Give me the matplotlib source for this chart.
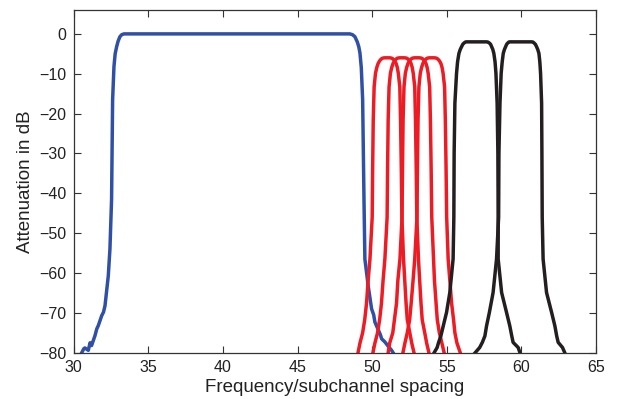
import numpy as np
import matplotlib
matplotlib.use('Agg')
import matplotlib.pyplot as plt

plt.rcParams['font.family'] = ['Liberation Sans', 'DejaVu Sans']

# wide prototype filter (blue)
blue_x = [30.54, 30.68, 30.75, 30.98, 31.10, 31.20, 31.43, 31.55, 31.65, 31.88, 32.00, 32.10,
          32.32, 32.43, 32.54, 32.61, 32.70, 32.78, 32.88, 32.98, 33.10, 33.22, 33.37,
          48.50, 48.68, 48.84, 49.00, 49.10, 49.18, 49.27, 49.36, 49.45, 49.51, 49.62, 49.73,
          49.96, 50.10, 50.18, 50.55, 50.63, 50.85, 51.10, 51.30, 51.40]
blue_y = [-80.0, -79.0, -78.8, -79.4, -77.5, -78.2, -75.7, -74.0, -73.2, -70.7, -69.8, -68.2,
          -60.7, -54.0, -41.5, -16.5, -8.2, -5.0, -3.2, -1.8, -0.7, -0.2, 0.0,
          0.0, -0.2, -0.7, -2.0, -3.2, -4.8, -8.5, -16.5, -41.5, -56.5, -59.8, -63.2,
          -69.0, -70.5, -72.3, -75.5, -76.5, -77.3, -78.5, -79.4, -80.0]

# four narrow subchannel filters (red), same level grid for all
red_y = [-80.0, -77.6, -75.0, -71.7, -67.6, -61.8, -56.5, -46.0, -34.0, -21.6, -13.3, -9.9,
         -8.4, -7.4, -6.8, -6.4, -6.15, -6.05, -6.0,
         -6.0, -6.05, -6.15, -6.4, -6.8, -7.4, -8.4, -9.9, -13.3, -21.6, -34.0, -46.0,
         -56.5, -61.8, -67.6, -71.7, -75.0, -77.6, -80.0]
red_x1 = [49.05, 49.18, 49.36, 49.50, 49.62, 49.73, 49.85, 50.00, 50.03, 50.07, 50.13, 50.22,
          50.31, 50.40, 50.49, 50.58, 50.66, 50.74, 50.85,
          51.15, 51.26, 51.34, 51.42, 51.51, 51.60, 51.68, 51.75, 51.85, 51.90, 51.95, 51.99,
          52.10, 52.18, 52.27, 52.35, 52.52, 52.65, 52.80]
red_x2 = [50.05, 50.18, 50.36, 50.50, 50.62, 50.73, 50.85, 51.00, 51.03, 51.07, 51.13, 51.22,
          51.31, 51.40, 51.49, 51.58, 51.66, 51.74, 51.85,
          52.15, 52.26, 52.34, 52.42, 52.51, 52.60, 52.68, 52.75, 52.85, 52.90, 52.95, 52.99,
          53.10, 53.18, 53.27, 53.35, 53.52, 53.65, 53.80]
red_x3 = [51.07, 51.17, 51.38, 51.49, 51.63, 51.72, 51.86, 52.00, 52.03, 52.07, 52.13, 52.22,
          52.31, 52.40, 52.49, 52.58, 52.66, 52.74, 52.85,
          53.15, 53.26, 53.34, 53.42, 53.51, 53.60, 53.68, 53.75, 53.85, 53.90, 53.95, 53.99,
          54.11, 54.17, 54.28, 54.36, 54.50, 54.67, 54.82]
red_x4 = [52.06, 52.19, 52.35, 52.51, 52.61, 52.74, 52.85, 53.00, 53.03, 53.07, 53.13, 53.22,
          53.31, 53.40, 53.49, 53.58, 53.66, 53.74, 53.85,
          54.15, 54.26, 54.34, 54.42, 54.51, 54.60, 54.68, 54.75, 54.85, 54.90, 54.95, 54.99,
          55.09, 55.20, 55.32, 55.45, 55.54, 55.68, 55.90]

# two wider filters (black)
black_y = [-80.0, -78.7, -77.4, -75.8, -73.3, -69.9, -64.9, -56.5, -46.0, -30.0, -17.4, -9.9,
           -7.0, -4.9, -3.9, -3.2, -2.6, -2.3, -2.05, -2.0,
           -2.0, -2.05, -2.3, -2.6, -3.2, -3.9, -4.9, -7.0, -9.9, -17.4, -30.0, -46.0,
           -56.5, -64.9, -69.9, -73.3, -75.8, -77.4, -78.7, -80.0]
black_x1 = [54.15, 54.35, 54.45, 54.60, 54.76, 54.98, 55.20, 55.42, 55.47, 55.49, 55.54, 55.65,
            55.72, 55.81, 55.90, 55.99, 56.07, 56.15, 56.24, 56.32,
            57.66, 57.75, 57.85, 57.93, 58.00, 58.08, 58.15, 58.23, 58.29, 58.37, 58.42, 58.44,
            58.44, 58.67, 59.00, 59.22, 59.35, 59.44, 59.78, 59.90]
black_x2 = [56.90, 57.20, 57.38, 57.55, 57.66, 57.85, 58.10, 58.33, 58.47, 58.49, 58.56, 58.64,
            58.71, 58.78, 58.86, 58.94, 59.01, 59.08, 59.15, 59.22,
            60.68, 60.77, 60.85, 60.93, 61.01, 61.09, 61.17, 61.23, 61.28, 61.35, 61.37, 61.39,
            61.45, 61.68, 62.02, 62.24, 62.36, 62.46, 62.75, 62.90]

fig = plt.figure(figsize=(6.19, 3.99), dpi=100)
ax = fig.add_axes([0.119, 0.116, 0.844, 0.859])

lw = 2.5
ax.plot(blue_x, blue_y, color='#2f50a6', linewidth=lw, solid_joinstyle='round')
for rx in [red_x1, red_x2, red_x3, red_x4]:
    ax.plot(rx, red_y, color='#ed1c24', linewidth=lw, solid_joinstyle='round')
for bx in [black_x1, black_x2]:
    ax.plot(bx, black_y, color='#231f20', linewidth=lw, solid_joinstyle='round')

ax.set_xlim(30, 65)
ax.set_ylim(-80, 6)
ax.set_xticks(np.arange(30, 66, 5))
ax.set_yticks(np.arange(-80, 1, 10))
ax.tick_params(direction='in', top=True, right=True, length=5, width=0.8,
               labelsize=11.5, colors='#333333', labelcolor='#222222', pad=5)
for s in ax.spines.values():
    s.set_linewidth(0.9)
    s.set_color('#333333')

ax.set_xlabel('Frequency/subchannel spacing', fontsize=13.5, color='#222222', labelpad=3)
ax.set_ylabel('Attenuation in dB', fontsize=13.5, color='#222222', labelpad=4)

fig.savefig('out.png', dpi=100)
